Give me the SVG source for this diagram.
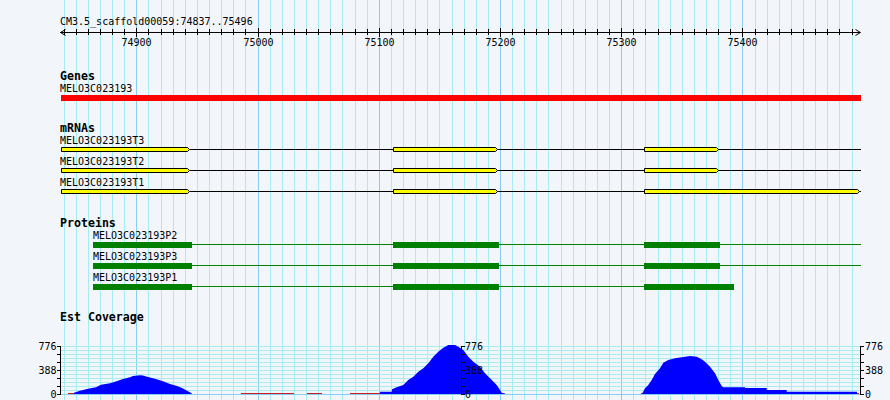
<svg xmlns="http://www.w3.org/2000/svg" width="890" height="400" viewBox="0 0 890 400">
<style>
.t{font-family:"DejaVu Sans Mono","Liberation Mono",monospace;font-size:10px;fill:#000}
.b{font-family:"DejaVu Sans Mono","Liberation Mono",monospace;font-size:11.6px;font-weight:bold;fill:#000}
.mn{stroke:#a6ecf0;stroke-width:1}
.mj{stroke:#88ccf0;stroke-width:1}
.k{stroke:#000;stroke-width:1;fill:none}
.ex{fill:#ffff00;stroke:#000;stroke-width:1}
.gl{stroke:#008000;stroke-width:1}
.gb{fill:#008000}
.cv{fill:#0000ff}
.z{stroke:#c42020;stroke-width:1}
</style>
<rect x="0" y="0" width="890" height="400" fill="#f2f5fa"/>
<g id="grid">
<path class="mn" d="M64.5 0V400M76.5 0V400M88.5 0V400M100.5 0V400M112.5 0V400M124.5 0V400M148.5 0V400M161.5 0V400M173.5 0V400M185.5 0V400M197.5 0V400M209.5 0V400M221.5 0V400M233.5 0V400M245.5 0V400M270.5 0V400M282.5 0V400M294.5 0V400M306.5 0V400M318.5 0V400M330.5 0V400M342.5 0V400M355.5 0V400M367.5 0V400M391.5 0V400M403.5 0V400M415.5 0V400M427.5 0V400M439.5 0V400M452.5 0V400M464.5 0V400M476.5 0V400M488.5 0V400M512.5 0V400M524.5 0V400M536.5 0V400M548.5 0V400M561.5 0V400M573.5 0V400M585.5 0V400M597.5 0V400M609.5 0V400M633.5 0V400M645.5 0V400M658.5 0V400M670.5 0V400M682.5 0V400M694.5 0V400M706.5 0V400M718.5 0V400M730.5 0V400M755.5 0V400M767.5 0V400M779.5 0V400M791.5 0V400M803.5 0V400M815.5 0V400M827.5 0V400M839.5 0V400M852.5 0V400"/>
<path class="mj" d="M136.5 0V400M258.5 0V400M379.5 0V400M500.5 0V400M621.5 0V400M742.5 0V400"/>
<path class="mn" d="M60 346.5H861M60 350.5H861M60 354.5H861M60 358.5H861M60 362.5H861M60 366.5H861M60 370.5H861M60 374.5H861M60 378.5H861M60 382.5H861M60 386.5H861M60 390.5H861"/>
<path class="mj" d="M60 394.5H861"/>
</g>
<g id="ruler">
<text class="t" x="60" y="25">CM3.5_scaffold00059:74837..75496</text>
<path class="k" d="M60 32.5H860M65.5 29.5L60.5 32.5L65.5 35.5M855.5 29.5L860.5 32.5L855.5 35.5"/>
<path class="k" d="M64.5 29V35M76.5 29V35M88.5 29V35M100.5 29V35M112.5 29V35M124.5 29V35M148.5 29V35M161.5 29V35M173.5 29V35M185.5 29V35M197.5 29V35M209.5 29V35M221.5 29V35M233.5 29V35M245.5 29V35M270.5 29V35M282.5 29V35M294.5 29V35M306.5 29V35M318.5 29V35M330.5 29V35M342.5 29V35M355.5 29V35M367.5 29V35M391.5 29V35M403.5 29V35M415.5 29V35M427.5 29V35M439.5 29V35M452.5 29V35M464.5 29V35M476.5 29V35M488.5 29V35M512.5 29V35M524.5 29V35M536.5 29V35M548.5 29V35M561.5 29V35M573.5 29V35M585.5 29V35M597.5 29V35M609.5 29V35M633.5 29V35M645.5 29V35M658.5 29V35M670.5 29V35M682.5 29V35M694.5 29V35M706.5 29V35M718.5 29V35M730.5 29V35M755.5 29V35M767.5 29V35M779.5 29V35M791.5 29V35M803.5 29V35M815.5 29V35M827.5 29V35M839.5 29V35M852.5 29V35"/>
<path class="k" d="M136.5 28V37M258.5 28V37M379.5 28V37M500.5 28V37M621.5 28V37M742.5 28V37"/>
<text class="t" x="136.5" y="46" text-anchor="middle">74900</text>
<text class="t" x="258.5" y="46" text-anchor="middle">75000</text>
<text class="t" x="379.5" y="46" text-anchor="middle">75100</text>
<text class="t" x="500.5" y="46" text-anchor="middle">75200</text>
<text class="t" x="621.5" y="46" text-anchor="middle">75300</text>
<text class="t" x="742.5" y="46" text-anchor="middle">75400</text>
</g>
<g id="genes">
<text class="b" x="60" y="80">Genes</text>
<text class="t" x="60" y="92">MELO3C023193</text>
<rect x="61" y="95" width="800" height="6" fill="#ff0000"/>
</g>
<g id="mrnas">
<text class="b" x="60" y="132">mRNAs</text>
</g>
<g id="T3">
<text class="t" x="60" y="144">MELO3C023193T3</text>
<path class="k" d="M61 149.5H861"/>
<polygon class="ex" points="61.5,147.5 187.5,147.5 189.5,149.5 187.5,151.5 61.5,151.5"/>
<polygon class="ex" points="393.5,147.5 495.5,147.5 497.5,149.5 495.5,151.5 393.5,151.5"/>
<polygon class="ex" points="644.5,147.5 716.5,147.5 718.5,149.5 716.5,151.5 644.5,151.5"/>
</g>
<g id="T2">
<text class="t" x="60" y="165">MELO3C023193T2</text>
<path class="k" d="M61 170.5H861"/>
<polygon class="ex" points="61.5,168.5 187.5,168.5 189.5,170.5 187.5,172.5 61.5,172.5"/>
<polygon class="ex" points="393.5,168.5 495.5,168.5 497.5,170.5 495.5,172.5 393.5,172.5"/>
<polygon class="ex" points="644.5,168.5 716.5,168.5 718.5,170.5 716.5,172.5 644.5,172.5"/>
</g>
<g id="T1">
<text class="t" x="60" y="186">MELO3C023193T1</text>
<path class="k" d="M61 191.5H861"/>
<polygon class="ex" points="61.5,189.5 187.5,189.5 189.5,191.5 187.5,193.5 61.5,193.5"/>
<polygon class="ex" points="393.5,189.5 495.5,189.5 497.5,191.5 495.5,193.5 393.5,193.5"/>
<polygon class="ex" points="644.5,189.5 857.5,189.5 859.5,191.5 857.5,193.5 644.5,193.5"/>
</g>
<g id="proteins">
<text class="b" x="60" y="227">Proteins</text>
</g>
<g id="P2">
<text class="t" x="93" y="239">MELO3C023193P2</text>
<path class="gl" d="M93 244.5H861"/>
<rect class="gb" x="93" y="242" width="99" height="6"/>
<rect class="gb" x="393" y="242" width="106" height="6"/>
<rect class="gb" x="644" y="242" width="76" height="6"/>
</g>
<g id="P3">
<text class="t" x="93" y="260">MELO3C023193P3</text>
<path class="gl" d="M93 265.5H861"/>
<rect class="gb" x="93" y="263" width="99" height="6"/>
<rect class="gb" x="393" y="263" width="106" height="6"/>
<rect class="gb" x="644" y="263" width="76" height="6"/>
</g>
<g id="P1">
<text class="t" x="93" y="281">MELO3C023193P1</text>
<path class="gl" d="M93 286.5H734"/>
<rect class="gb" x="93" y="284" width="99" height="6"/>
<rect class="gb" x="393" y="284" width="106" height="6"/>
<rect class="gb" x="644" y="284" width="90" height="6"/>
</g>
<g id="coverage">
<text class="b" x="60" y="321">Est Coverage</text>
<path class="z" d="M68 393.5H74M241 393.5H294M307 393.5H322M350 393.5H380M641 393.5H643M857 393.5H859"/>
<polygon class="cv" points="74,394 74,392.7 80,390.7 88,388.7 96,387.3 101,384.7 110,383.3 115,381.7 123,379 130,377.3 133,376 140,375.3 143,375.5 147,376.7 155,378.7 163,381.3 170,384 177,386 182,388 187,390.7 191.7,393.3 191.7,394"/>
<polygon class="cv" points="380,394 380,391.7 391.7,391.7 392,389.3 396.7,387.3 403.3,385 408.3,380 413.3,376.7 418.3,371.7 423.3,368.3 428.3,363.3 433.3,356.7 438.3,351.7 443.3,347.7 448.3,345 455,345 458.3,346.7 463.3,350 468.3,356.7 473.3,361.7 480,366.7 485,373.3 490,378.3 496.7,385 500,390 501.7,392.7 505,393.5 505,394"/>
<polygon class="cv" points="642,394 643,392 645,388.3 648.3,385 651.7,380 655,374 660,368.3 663.3,362.7 668.3,360 675,358.3 685,356.7 690,356 696.7,356.7 701.7,359.3 705,361.7 710,366.7 715,373.3 718.3,380 721.7,386 723.3,387.3 745,387.3 745,388 766.7,388 766.7,390 786.7,390 786.7,391.7 857,391.7 857,394"/>
<path class="k" d="M60.5 346V395M57 346.5H60M57 354.5H60M57 362.5H60M57 370.5H60M57 378.5H60M57 386.5H60M57 394.5H60"/>
<text class="t" x="56.5" y="349.5" text-anchor="end">776</text>
<text class="t" x="56.5" y="373.5" text-anchor="end">388</text>
<text class="t" x="56.5" y="397.5" text-anchor="end">0</text>
<path class="k" d="M461.5 346V395M462 346.5H465M462 354.5H465M462 362.5H465M462 370.5H465M462 378.5H465M462 386.5H465M462 394.5H465"/>
<text class="t" x="465" y="349.5">776</text>
<text class="t" x="465" y="373.5">388</text>
<text class="t" x="465" y="397.5">0</text>
<path class="k" d="M860.5 346V395M861 346.5H864M861 354.5H864M861 362.5H864M861 370.5H864M861 378.5H864M861 386.5H864M861 394.5H864"/>
<text class="t" x="865" y="349.5">776</text>
<text class="t" x="865" y="373.5">388</text>
<text class="t" x="865" y="397.5">0</text>
</g>
</svg>
